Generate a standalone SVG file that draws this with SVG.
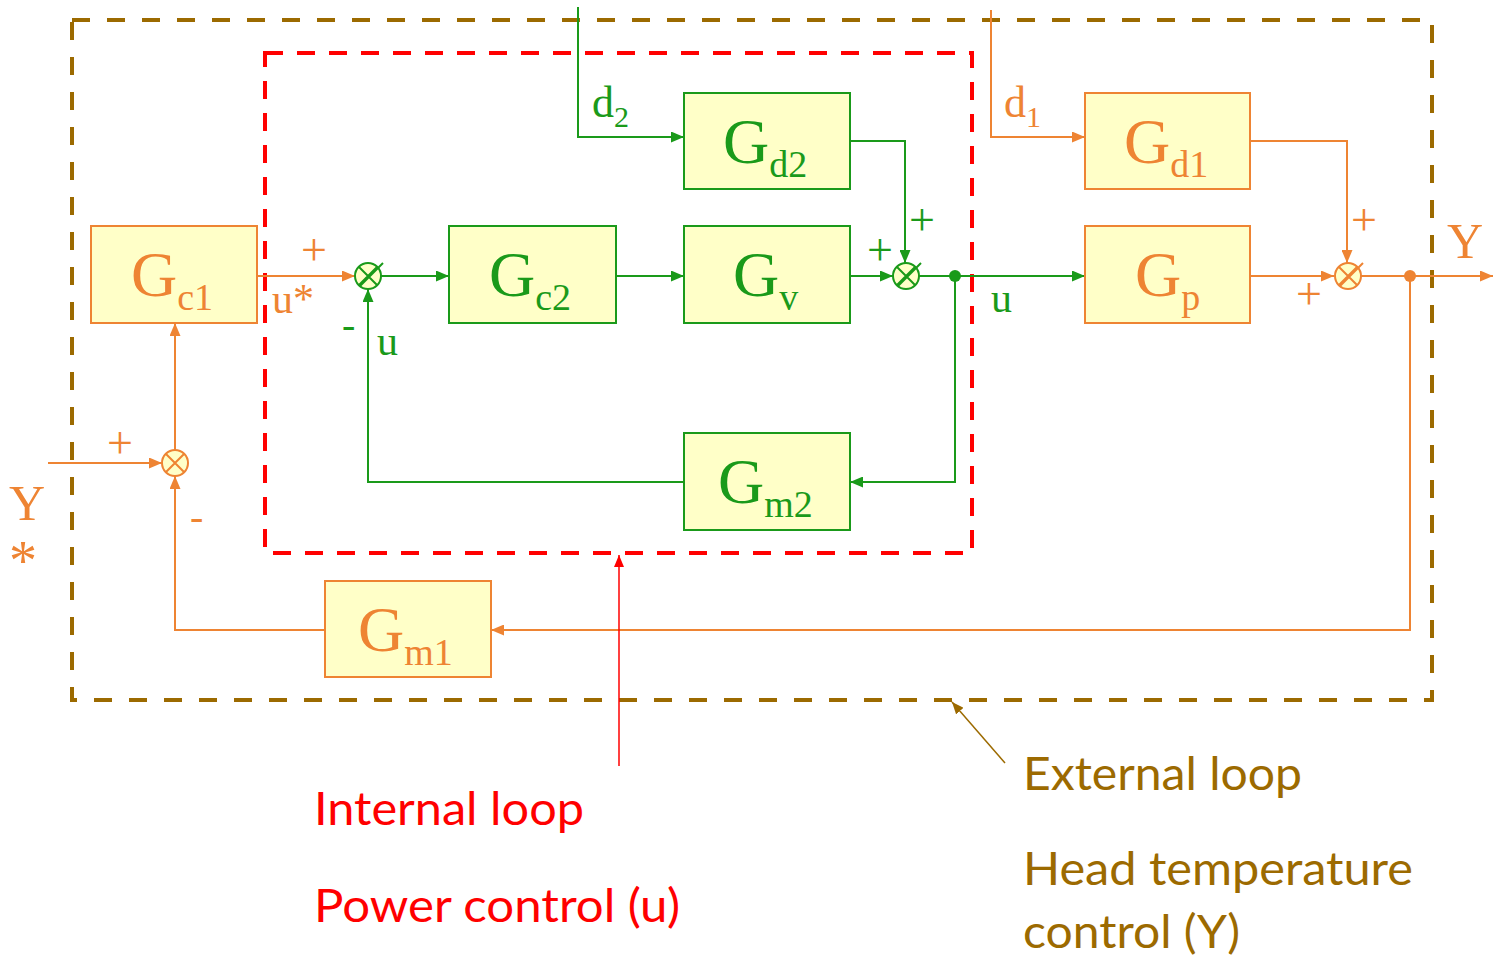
<svg xmlns="http://www.w3.org/2000/svg" width="1493" height="957" viewBox="0 0 1493 957">
<style>
.bg{fill:#fff}
.bo{fill:#ffffc8;stroke:#ee8433;stroke-width:2}
.bgn{fill:#ffffc8;stroke:#1a9a1a;stroke-width:2}
.lo{fill:none;stroke:#ee8433;stroke-width:2}
.lg{fill:none;stroke:#1a9a1a;stroke-width:2}
.so{fill:#ffffc8;stroke:#ee8433;stroke-width:2}
.sg{fill:#ffffc8;stroke:#1a9a1a;stroke-width:2}
.serif{font-family:"Liberation Serif","DejaVu Serif",serif}
.G{font-size:64px}
.sub{font-size:38px}
.to{fill:#ee8433}
.tg{fill:#1a9a1a}
.pl{font-size:46px}
.cal{font-family:Lato,"Open Sans","Liberation Sans",sans-serif;font-size:46px}
</style>
<defs>
<marker id="ao" markerWidth="13" markerHeight="11" refX="13" refY="5.5" orient="auto" markerUnits="userSpaceOnUse"><path d="M0,0 L13,5.5 L0,11 Z" fill="#ee8433"/></marker>
<marker id="ag" markerWidth="13" markerHeight="11" refX="13" refY="5.5" orient="auto" markerUnits="userSpaceOnUse"><path d="M0,0 L13,5.5 L0,11 Z" fill="#1a9a1a"/></marker>
<marker id="ar" markerWidth="12" markerHeight="10" refX="12" refY="5" orient="auto" markerUnits="userSpaceOnUse"><path d="M0,0 L12,5 L0,10 Z" fill="#ff0000"/></marker>
<marker id="ab" markerWidth="12" markerHeight="10" refX="12" refY="5" orient="auto" markerUnits="userSpaceOnUse"><path d="M0,0 L12,5 L0,10 Z" fill="#9c6a00"/></marker>
</defs>
<rect class="bg" x="0" y="0" width="1493" height="957"/>

<g id="loops">
<rect x="72" y="20" width="1360" height="680" fill="none" stroke="#9c6a00" stroke-width="4" stroke-dasharray="18,17"/>
<rect x="265" y="53" width="707" height="500" fill="none" stroke="#ff0000" stroke-width="4" stroke-dasharray="18,14"/>
</g>

<g id="connectors">
<line class="lo" x1="257" y1="276" x2="355" y2="276" marker-end="url(#ao)"/>
<line class="lg" x1="381" y1="276" x2="449" y2="276" marker-end="url(#ag)"/>
<line class="lg" x1="616" y1="276" x2="684" y2="276" marker-end="url(#ag)"/>
<line class="lg" x1="850" y1="276" x2="893" y2="276" marker-end="url(#ag)"/>
<polyline class="lg" points="850,141 905,141 905,263" marker-end="url(#ag)"/>
<line class="lg" x1="919" y1="276" x2="1085" y2="276" marker-end="url(#ag)"/>
<circle cx="955" cy="276" r="6" fill="#1a9a1a"/>
<polyline class="lg" points="955,276 955,482 850,482" marker-end="url(#ag)"/>
<polyline class="lg" points="684,482 368,482 368,289" marker-end="url(#ag)"/>
<polyline class="lg" points="578,7 578,137 684,137" marker-end="url(#ag)"/>
<polyline class="lo" points="991,10 991,137 1085,137" marker-end="url(#ao)"/>
<polyline class="lo" points="1250,141 1347,141 1347,263" marker-end="url(#ao)"/>
<line class="lo" x1="1250" y1="276" x2="1334" y2="276" marker-end="url(#ao)"/>
<line class="lo" x1="1361" y1="276" x2="1493" y2="276" marker-end="url(#ao)"/>
<circle cx="1410" cy="276" r="6" fill="#ee8433"/>
<polyline class="lo" points="1410,276 1410,630 491,630" marker-end="url(#ao)"/>
<polyline class="lo" points="325,630 175,630 175,476" marker-end="url(#ao)"/>
<line class="lo" x1="175" y1="450" x2="175" y2="323" marker-end="url(#ao)"/>
<line class="lo" x1="48" y1="463" x2="162" y2="463" marker-end="url(#ao)"/>
<line x1="619" y1="766" x2="619" y2="555" stroke="#ff0000" stroke-width="1.5" marker-end="url(#ar)"/>
<line x1="1005" y1="763" x2="952" y2="702" stroke="#9c6a00" stroke-width="1.5" marker-end="url(#ab)"/>
</g>

<g id="S1"><circle class="sg" cx="368" cy="276" r="13"/><path class="lg" d="M359,267 L377,285 M377,267 L359,285 M360,286 L383,263"/></g>
<g id="S2"><circle class="sg" cx="906" cy="276" r="13"/><path class="lg" d="M897,267 L915,285 M915,267 L897,285 M898,286 L921,263"/></g>
<g id="S3"><circle class="so" cx="1348" cy="276" r="13"/><path class="lo" d="M1339,267 L1357,285 M1357,267 L1339,285 M1340,286 L1363,263"/></g>
<g id="S4"><circle class="so" cx="175" cy="463" r="13"/><path class="lo" d="M166,454 L184,472 M184,454 L166,472"/></g>

<g id="Gc1"><rect class="bo" x="91" y="226" width="166" height="97"/><text class="serif to" x="131" y="296"><tspan class="G">G</tspan><tspan class="sub" dy="14">c1</tspan></text></g>
<g id="Gc2"><rect class="bgn" x="449" y="226" width="167" height="97"/><text class="serif tg" x="489" y="296"><tspan class="G">G</tspan><tspan class="sub" dy="14">c2</tspan></text></g>
<g id="Gv"><rect class="bgn" x="684" y="226" width="166" height="97"/><text class="serif tg" x="733" y="296"><tspan class="G">G</tspan><tspan class="sub" dy="14">v</tspan></text></g>
<g id="Gd2"><rect class="bgn" x="684" y="93" width="166" height="96"/><text class="serif tg" x="723" y="163"><tspan class="G">G</tspan><tspan class="sub" dy="14">d2</tspan></text></g>
<g id="Gd1"><rect class="bo" x="1085" y="93" width="165" height="96"/><text class="serif to" x="1124" y="163"><tspan class="G">G</tspan><tspan class="sub" dy="14">d1</tspan></text></g>
<g id="Gp"><rect class="bo" x="1085" y="226" width="165" height="97"/><text class="serif to" x="1135" y="296"><tspan class="G">G</tspan><tspan class="sub" dy="14">p</tspan></text></g>
<g id="Gm2"><rect class="bgn" x="684" y="433" width="166" height="97"/><text class="serif tg" x="718" y="503"><tspan class="G">G</tspan><tspan class="sub" dy="14">m2</tspan></text></g>
<g id="Gm1"><rect class="bo" x="325" y="581" width="166" height="96"/><text class="serif to" x="358" y="651"><tspan class="G">G</tspan><tspan class="sub" dy="14">m1</tspan></text></g>

<g id="labels" class="serif">
<text class="to pl" x="301" y="265">+</text>
<text class="to" x="272" y="313" font-size="42">u*</text>
<text class="tg" x="342" y="338" font-size="40">-</text>
<text class="tg" x="377" y="355" font-size="42">u</text>
<text class="tg pl" x="867" y="265">+</text>
<text class="tg pl" x="909" y="235">+</text>
<text class="tg" x="991" y="312" font-size="42">u</text>
<text class="tg" x="592" y="117" font-size="44">d<tspan font-size="30" dy="10">2</tspan></text>
<text class="to" x="1004" y="117" font-size="44">d<tspan font-size="30" dy="10">1</tspan></text>
<text class="to pl" x="1351" y="235">+</text>
<text class="to pl" x="1296" y="309">+</text>
<text class="to" x="1447" y="258" font-size="50">Y</text>
<text class="to pl" x="107" y="458">+</text>
<text class="to" x="190" y="530" font-size="40">-</text>
<text class="to" x="9" y="520" font-size="50">Y</text>
<text class="to" x="9" y="580" font-size="56">*</text>
</g>

<g id="captions" class="cal">
<text x="314" y="825" fill="#ff0000" textLength="270" lengthAdjust="spacingAndGlyphs">Internal loop</text>
<text x="314" y="922" fill="#ff0000" textLength="366" lengthAdjust="spacingAndGlyphs">Power control (u)</text>
<text x="1023" y="790" fill="#9c6a00" textLength="279" lengthAdjust="spacingAndGlyphs">External loop</text>
<text x="1023" y="885" fill="#9c6a00" textLength="390" lengthAdjust="spacingAndGlyphs">Head temperature</text>
<text x="1023" y="948" fill="#9c6a00" textLength="217" lengthAdjust="spacingAndGlyphs">control (Y)</text>
</g>
</svg>
